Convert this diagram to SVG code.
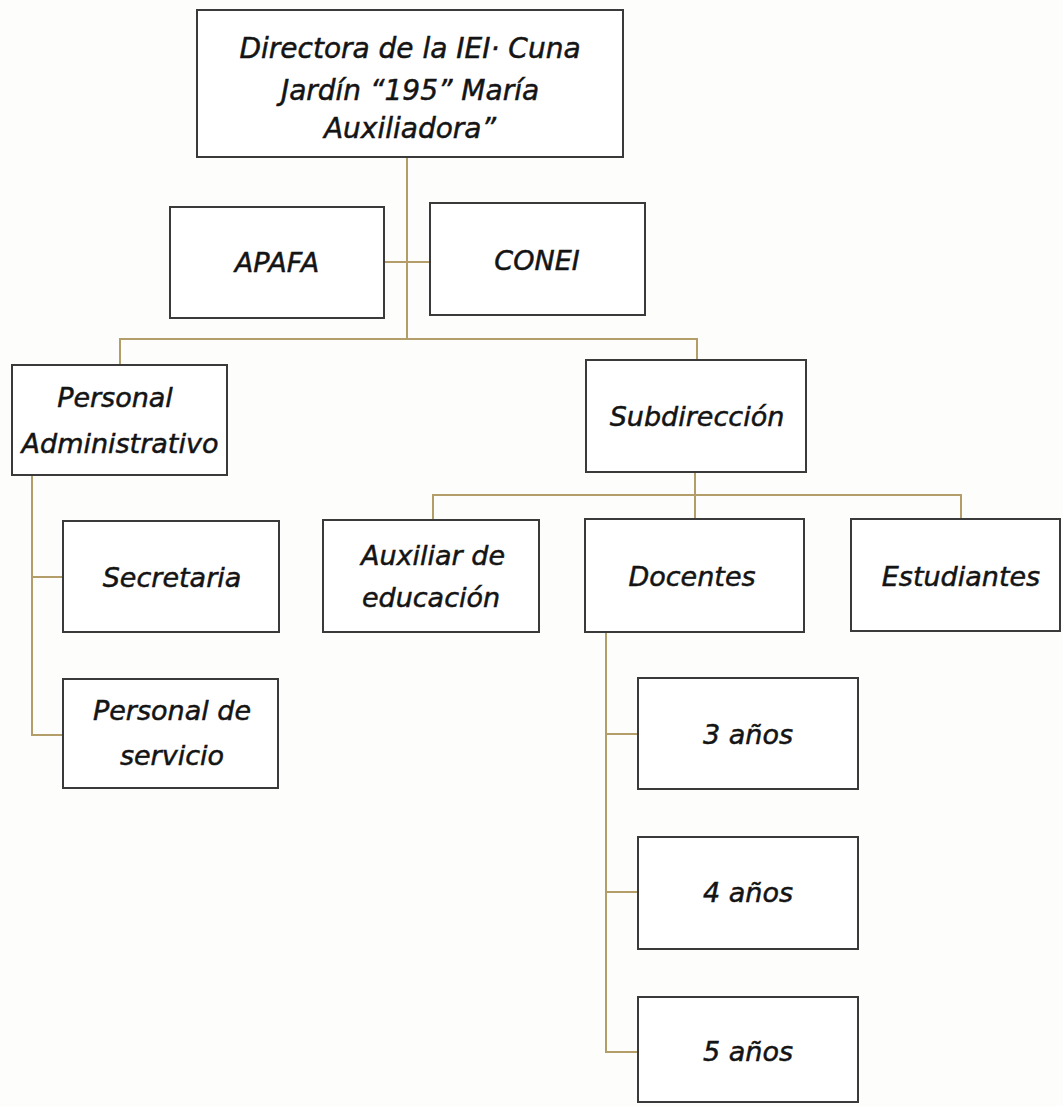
<svg xmlns="http://www.w3.org/2000/svg" width="1063" height="1106" viewBox="0 0 1063 1106">
  <style>
    .box { fill: #ffffff; stroke: #3a3a3a; stroke-width: 2; }
    .lbl { font-family: "DejaVu Sans", "Noto Sans", sans-serif; font-style: oblique; font-size: 27px; fill: #141414; stroke: #141414; stroke-width: 0.5; text-anchor: middle; }
    .big { font-size: 28px; }
    .conn { fill: none; stroke: #b39d68; stroke-width: 2; }
  </style>
  <rect x="0" y="0" width="1063" height="1106" fill="#fdfdfc"/>

  <g id="connectors">
    <path class="conn" d="M407 157 V339"/>
    <path class="conn" d="M384 262 H430"/>
    <path class="conn" d="M120 365 V339 H697 V360"/>
    <path class="conn" d="M695 472 V519"/>
    <path class="conn" d="M433 520 V495 H961 V519"/>
    <path class="conn" d="M32 475 V735 H63"/>
    <path class="conn" d="M32 577 H63"/>
    <path class="conn" d="M606 632 V1052 H638"/>
    <path class="conn" d="M606 734 H638"/>
    <path class="conn" d="M606 892 H638"/>
  </g>

  <g id="node-directora">
    <rect class="box" x="197" y="10" width="426" height="147"/>
    <text class="lbl big" x="410" y="58">Directora de la IEI· Cuna</text>
    <text class="lbl big" x="410" y="100">Jardín “195” María</text>
    <text class="lbl big" x="410" y="138">Auxiliadora”</text>
  </g>

  <g id="node-apafa">
    <rect class="box" x="170" y="207" width="214" height="111"/>
    <text class="lbl" x="277" y="272">APAFA</text>
  </g>

  <g id="node-conei">
    <rect class="box" x="430" y="203" width="215" height="112"/>
    <text class="lbl" x="537" y="270">CONEI</text>
  </g>

  <g id="node-personal-administrativo">
    <rect class="box" x="12" y="365" width="215" height="110"/>
    <text class="lbl" x="115" y="407">Personal</text>
    <text class="lbl" x="120" y="453">Administrativo</text>
  </g>

  <g id="node-subdireccion">
    <rect class="box" x="586" y="360" width="220" height="112"/>
    <text class="lbl" x="697" y="426">Subdirección</text>
  </g>

  <g id="node-auxiliar">
    <rect class="box" x="323" y="520" width="216" height="112"/>
    <text class="lbl" x="433" y="565">Auxiliar de</text>
    <text class="lbl" x="431" y="607">educación</text>
  </g>

  <g id="node-docentes">
    <rect class="box" x="585" y="519" width="219" height="113"/>
    <text class="lbl" x="692" y="586">Docentes</text>
  </g>

  <g id="node-estudiantes">
    <rect class="box" x="851" y="519" width="209" height="112"/>
    <text class="lbl" x="961" y="586">Estudiantes</text>
  </g>

  <g id="node-secretaria">
    <rect class="box" x="63" y="521" width="216" height="111"/>
    <text class="lbl" x="172" y="587">Secretaria</text>
  </g>

  <g id="node-personal-servicio">
    <rect class="box" x="63" y="679" width="215" height="109"/>
    <text class="lbl" x="172" y="720">Personal de</text>
    <text class="lbl" x="172" y="765">servicio</text>
  </g>

  <g id="node-3anos">
    <rect class="box" x="638" y="678" width="220" height="111"/>
    <text class="lbl" x="748" y="744">3 años</text>
  </g>

  <g id="node-4anos">
    <rect class="box" x="638" y="837" width="220" height="112"/>
    <text class="lbl" x="748" y="902">4 años</text>
  </g>

  <g id="node-5anos">
    <rect class="box" x="638" y="997" width="220" height="105"/>
    <text class="lbl" x="748" y="1061">5 años</text>
  </g>
</svg>
